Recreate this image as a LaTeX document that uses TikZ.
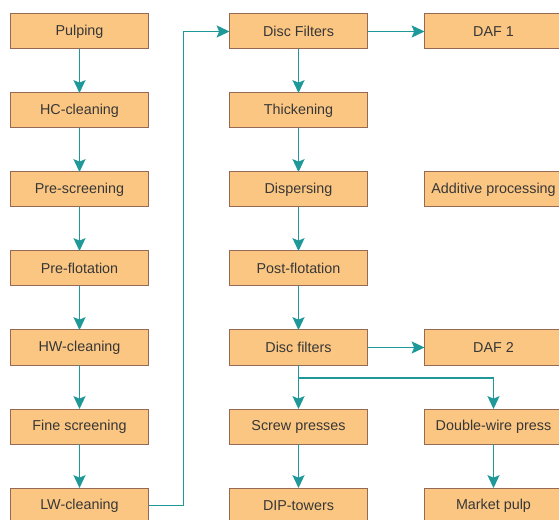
\documentclass[tikz,border=0pt]{standalone}
\usepackage{fontspec}
\setsansfont{Liberation Sans}
\usetikzlibrary{arrows.meta,positioning}
\definecolor{boxfill}{RGB}{251,198,130}
\definecolor{boxline}{RGB}{150,105,85}
\definecolor{flowline}{RGB}{30,152,152}
\definecolor{boxtext}{RGB}{55,55,55}

\begin{document}
\begin{tikzpicture}
		[font=\sffamily\fontsize{10.2}{12}\selectfont, inner sep=0pt, outer sep=0pt,
		process/.style	= {draw=boxline, fill=boxfill, text=boxtext, line width=.25mm, minimum width=34.5mm, minimum height=8.75mm},
		flow/.style		= {draw=flowline, line width=.4mm, -{Stealth[length=3.2mm, width=3mm, inset=.6mm]}}]
		
		\fill [white] (0,0) rectangle (139.75mm,-130mm);
		\useasboundingbox (0,0) rectangle (139.75mm,-130mm);
		
		% left column
		\node [process]	at (19.875mm,-7.875mm)	(1)	{Pulping};
		\node [process]	[below = 11mm of 1]		(2)	{HC-cleaning};
		\node [process]	[below = 11mm of 2]		(3)	{Pre-screening};
		\node [process]	[below = 11mm of 3]		(4)	{Pre-flotation};
		\node [process]	[below = 11mm of 4]		(5)	{HW-cleaning};
		\node [process]	[below = 11mm of 5]		(6)	{Fine screening};
		\node [process]	[below = 11mm of 6]		(7)	{LW-cleaning};
		
		% middle column
		\node [process]	[right = 20.25mm of 1]	(8)		{Disc Filters};
		\node [process]	[below = 11mm of 8]		(9)		{Thickening};
		\node [process]	[below = 11mm of 9]		(10)	{Dispersing};
		\node [process]	[below = 11mm of 10]	(11)	{Post-flotation};
		\node [process]	[below = 11mm of 11]	(12)	{Disc filters};
		\node [process]	[below = 11mm of 12]	(13)	{Screw presses};
		\node [process]	[below = 11mm of 13]	(14)	{DIP-towers};
		
		% right column
		\node [process]	[right = 14.25mm of 8]	(15)	{DAF 1};
		\node [process]	[right = 14.25mm of 10]	(16)	{Additive processing};
		\node [process]	[right = 14.25mm of 12]	(17)	{DAF 2};
		\node [process]	[right = 14.25mm of 13]	(18)	{Double-wire press};
		\node [process]	[right = 14.25mm of 14]	(19)	{Market pulp};
		
		\draw [flow] (1) -- (2);
		\draw [flow] (2) -- (3);
		\draw [flow] (3) -- (4);
		\draw [flow] (4) -- (5);
		\draw [flow] (5) -- (6);
		\draw [flow] (6) -- (7);
		\draw [flow] (7.east) -- ++(8.75mm,0) |- (8.west);
		
		\draw [flow] (8) -- (15);
		\draw [flow] (8) -- (9);
		\draw [flow] (9) -- (10);
		\draw [flow] (10) -- (11);
		\draw [flow] (11) -- (12);
		\draw [flow] (12) -- (17);
		\draw [flow] (12) -- (13);
		\draw [flow] (12.south) -- ++(0,-3.25mm) -| (18.north);
		\draw [flow] (13) -- (14);
		\draw [flow] (18) -- (19);
		\end{tikzpicture}
\end{document}
